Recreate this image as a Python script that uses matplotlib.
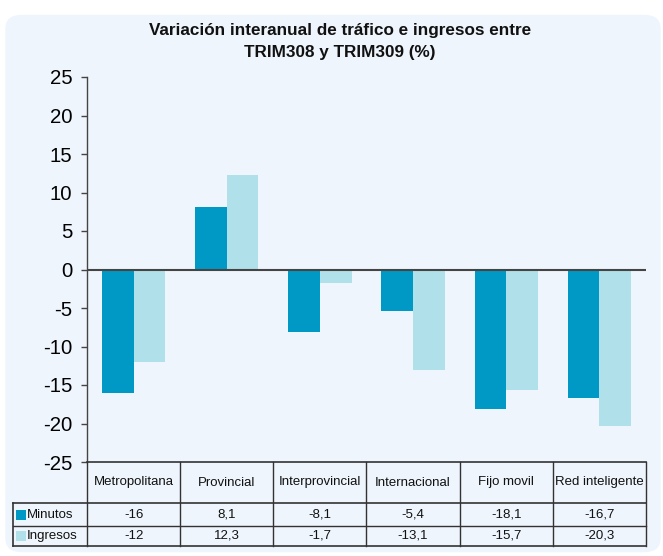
import matplotlib.pyplot as plt
from matplotlib.patches import FancyBboxPatch, Rectangle
import numpy as np

categories = ['Metropolitana', 'Provincial', 'Interprovincial', 'Internacional', 'Fijo movil', 'Red inteligente']
minutos = [-16, 8.1, -8.1, -5.4, -18.1, -16.7]
ingresos = [-12, 12.3, -1.7, -13.1, -15.7, -20.3]
minutos_txt = ['-16', '8,1', '-8,1', '-5,4', '-18,1', '-16,7']
ingresos_txt = ['-12', '12,3', '-1,7', '-13,1', '-15,7', '-20,3']
series_names = ['Minutos', 'Ingresos']
yticks = [25, 20, 15, 10, 5, 0, -5, -10, -15, -20, -25]

c_min = '#0099c6'
c_ing = '#b0e0ea'
bg = '#eef5fd'

plt.rcParams['font.family'] = ['Liberation Sans', 'DejaVu Sans']

W, H = 663, 556
fig = plt.figure(figsize=(W / 100, H / 100), dpi=100)
fig.patch.set_facecolor('white')

def fx(x):
    return x / W

def fy(y):
    return 1 - y / H

# rounded background box, kept behind the axes
fig.patches.append(FancyBboxPatch((fx(8), fy(550)), fx(650), (545 - 12) / H,
                                  boxstyle='round,pad=0.004,rounding_size=0.025',
                                  transform=fig.transFigure, facecolor=bg,
                                  edgecolor='none', zorder=-5))

fig.text(fx(340), fy(30), 'Variación interanual de tráfico e ingresos entre',
         ha='center', va='center', fontsize=12.3, fontweight='bold', color='#111111')
fig.text(fx(340), fy(52), 'TRIM308 y TRIM309 (%)',
         ha='center', va='center', fontsize=12.3, fontweight='bold', color='#111111')

# main axes
left, right, top, bottom = 87, 646, 77, 462
ax = fig.add_axes([fx(left), fy(bottom), fx(right - left), (bottom - top) / H])
ax.set_facecolor('none')
x = np.arange(len(categories))
bw = 0.34
ax.bar(x - bw / 2, minutos, bw, color=c_min, zorder=2)
ax.bar(x + bw / 2, ingresos, bw, color=c_ing, zorder=2)
ax.axhline(0, color='#444444', lw=1.5, zorder=3)
ax.set_xlim(-0.5, len(categories) - 0.5)
ax.set_ylim(-25, 25)
ax.set_yticks(yticks)
ax.set_yticklabels([str(t) for t in yticks], fontsize=14.7)
ax.set_xticks([])
for s in ['top', 'right', 'bottom']:
    ax.spines[s].set_visible(False)
ax.spines['left'].set_color('#444444')
ax.spines['left'].set_linewidth(1.0)
ax.tick_params(axis='y', length=4, width=1, color='#444444', pad=6.5)

# data table below
tb_top, tb_bot = 462, 546
tax = fig.add_axes([fx(left), fy(tb_bot), fx(right - left), (tb_bot - tb_top) / H])
tax.set_xlim(-0.5, len(categories) - 0.5)
tax.set_ylim(tb_bot - tb_top, 0)
tax.axis('off')
lc = '#333333'
unit = (right - left) / len(categories)
xl = -0.5 - (left - 13) / unit
r1, r2, r3 = 503 - tb_top, 526 - tb_top, tb_bot - tb_top

tax.plot([-0.5, 5.5], [0, 0], color=lc, lw=1.2, clip_on=False)
tax.plot([xl, 5.5], [r1, r1], color=lc, lw=1.2, clip_on=False)
tax.plot([xl, 5.5], [r2, r2], color=lc, lw=1.0, clip_on=False)
tax.plot([xl, 5.5], [r3, r3], color=lc, lw=1.2, clip_on=False)
tax.plot([xl, xl], [r1, r3], color=lc, lw=1.2, clip_on=False)
for i in range(len(categories) + 1):
    tax.plot([i - 0.5, i - 0.5], [0, r3], color=lc, lw=1.0, clip_on=False)

for i, cat in enumerate(categories):
    tax.text(i, r1 / 2, cat, ha='center', va='center', fontsize=9.5, color='#111111')
    tax.text(i, (r1 + r2) / 2, minutos_txt[i], ha='center', va='center', fontsize=9.5, color='#111111')
    tax.text(i, (r2 + r3) / 2, ingresos_txt[i], ha='center', va='center', fontsize=9.5, color='#111111')

sq = 10 / unit
for (ya, yb), name, col in zip([(r1, r2), (r2, r3)], series_names, [c_min, c_ing]):
    ym = (ya + yb) / 2
    tax.add_patch(Rectangle((xl + 2.5 / unit, ym - 5), sq, 10, facecolor=col,
                            edgecolor='none', clip_on=False))
    tax.text(xl + 14 / unit, ym, name, ha='left', va='center', fontsize=9.5, color='#111111')

fig.savefig('out.png', dpi=100)
